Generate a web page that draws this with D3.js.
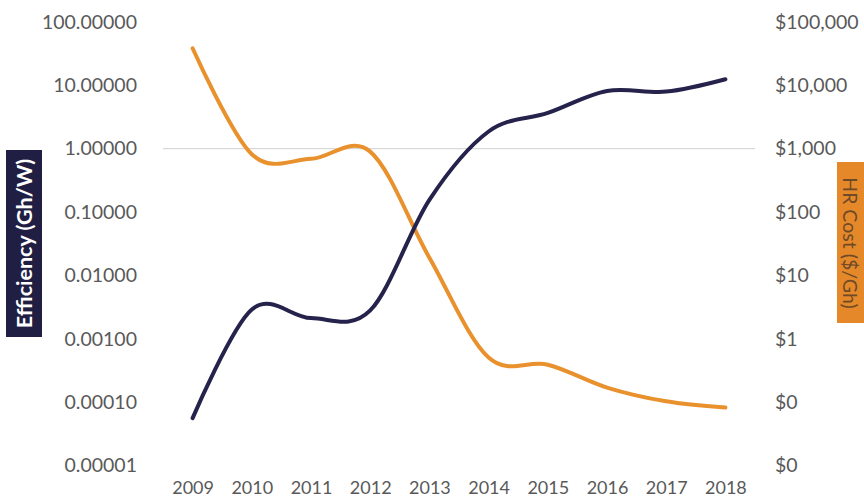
<!DOCTYPE html>
<html><head><meta charset="utf-8">
<script src="https://cdn.jsdelivr.net/npm/d3@7"></script>
<style>body{margin:0;background:#fff}svg{display:block}</style>
</head><body>
<svg id="c" width="864" height="502"></svg>
<script>
const years = ["2009","2010","2011","2012","2013","2014","2015","2016","2017","2018"];
const efficiency = [0.000056, 0.0029, 0.00212, 0.0028, 0.156, 1.87, 3.67, 8.17, 7.97, 12.5];
const hrCost = [38500, 820, 692, 900, 19, 0.505, 0.39, 0.17, 0.103, 0.082];
const leftTicks = [100, 10, 1, 0.1, 0.01, 0.001, 0.0001, 0.00001];
const rightTicks = [100000, 10000, 1000, 100, 10, 1, 0.1, 0.01];
const gridValues = [1];

const svg = d3.select("#c");
const font = "Lato, 'Open Sans', sans-serif";
const x = d3.scalePoint().domain(years).range([163, 755]).padding(0.5);
const yL = d3.scaleLog().domain([0.00001, 100]).range([465.5, 22]);
const yR = d3.scaleLog().domain([0.01, 100000]).range([465.5, 22]);

svg.selectAll(".grid").data(gridValues).join("line")
  .attr("x1", 163).attr("x2", 755)
  .attr("y1", d => yL(d)).attr("y2", d => yL(d))
  .attr("stroke", "#d9d9d9").attr("stroke-width", 1.2);

const la = svg.append("g").attr("transform", "translate(137,0)")
  .call(d3.axisLeft(yL).tickValues(leftTicks).tickSize(0).tickPadding(0).tickFormat(d => d.toFixed(5)));
la.select(".domain").remove();
la.selectAll("text").attr("font-family", font).attr("font-size", 19.5).attr("fill", "#595959");

const ra = svg.append("g").attr("transform", "translate(775,0)")
  .call(d3.axisRight(yR).tickValues(rightTicks).tickSize(0).tickPadding(0).tickFormat(d => "$" + d3.format(",.0f")(d)));
ra.select(".domain").remove();
ra.selectAll("text").attr("font-family", font).attr("font-size", 19.5).attr("fill", "#595959");

const xa = svg.append("g").attr("transform", "translate(0,481)")
  .call(d3.axisBottom(x).tickSize(0).tickPadding(0));
xa.select(".domain").remove();
xa.selectAll("text").attr("font-family", font).attr("font-size", 18).attr("fill", "#595959");

const curve = d3.curveCatmullRom.alpha(0);
svg.append("path").datum(hrCost)
  .attr("d", d3.line().x((d,i) => x(years[i])).y(d => yR(d)).curve(curve))
  .attr("fill", "none").attr("stroke", "#e8912d").attr("stroke-width", 4).attr("stroke-linecap", "round");
svg.append("path").datum(efficiency)
  .attr("d", d3.line().x((d,i) => x(years[i])).y(d => yL(d)).curve(curve))
  .attr("fill", "none").attr("stroke", "#25224b").attr("stroke-width", 4).attr("stroke-linecap", "round");

svg.append("rect").attr("x", 6).attr("y", 150).attr("width", 36).attr("height", 187).attr("fill", "#201e42");
svg.append("text").attr("transform", "translate(32,243.5) rotate(-90)")
  .attr("text-anchor", "middle").attr("font-family", font).attr("font-weight", "bold")
  .attr("font-size", 21.5).attr("fill", "#ffffff").text("Efficiency (Gh/W)");

svg.append("rect").attr("x", 837).attr("y", 162).attr("width", 40).attr("height", 161).attr("fill", "#e5882a");
svg.append("text").attr("transform", "translate(842.5,243) rotate(90)")
  .attr("text-anchor", "middle").attr("font-family", font)
  .attr("font-size", 19.5).attr("fill", "#6e4a26").text("HR Cost ($/Gh)");
</script>
</body></html>
